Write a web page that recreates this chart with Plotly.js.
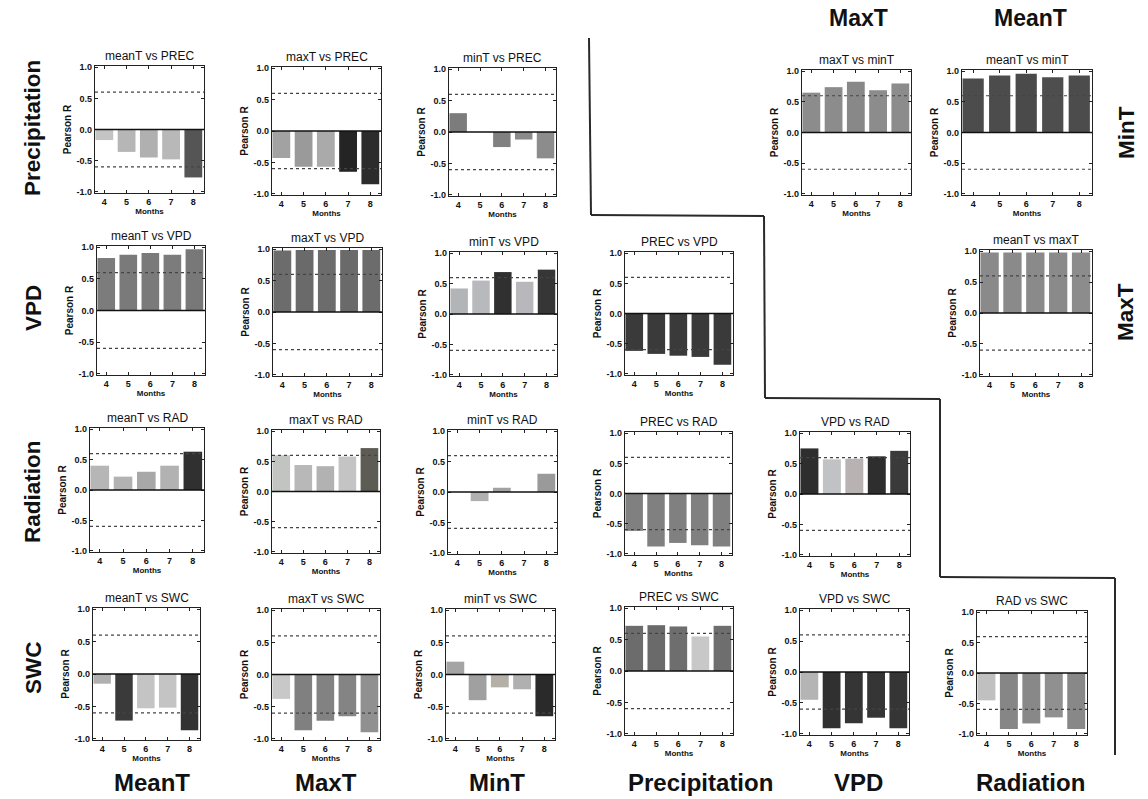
<!DOCTYPE html>
<html>
<head>
<meta charset="utf-8">
<script src="https://cdn.plot.ly/plotly-3.0.1.min.js"></script>
<style>html,body{margin:0;padding:0;background:#fff;}#chart{width:1148px;height:799px;}</style>
</head>
<body>
<div id="chart"></div>
<script>
// ---- data ----
const months = [4, 5, 6, 7, 8];
const monthLabels = ['4', '5', '6', '7', '8'];
const yTickVals = [-1, -0.5, 0, 0.5, 1];
const yTickText = ['-1.0', '-0.5', '0.0', '0.5', '1.0'];
const significance = [0.6, -0.6];

const r_meanT_PREC = [-0.17, -0.36, -0.45, -0.48, -0.77];
const r_maxT_PREC  = [-0.43, -0.57, -0.57, -0.65, -0.85];
const r_minT_PREC  = [0.30, 0.00, -0.24, -0.12, -0.42];
const r_maxT_minT  = [0.65, 0.74, 0.83, 0.69, 0.80];
const r_meanT_minT = [0.88, 0.93, 0.96, 0.90, 0.93];
const r_meanT_VPD  = [0.83, 0.88, 0.91, 0.88, 0.97];
const r_maxT_VPD   = [0.98, 0.99, 0.99, 0.99, 0.99];
const r_minT_VPD   = [0.42, 0.55, 0.69, 0.53, 0.73];
const r_PREC_VPD   = [-0.62, -0.67, -0.70, -0.72, -0.85];
const r_meanT_maxT = [0.98, 0.98, 0.98, 0.98, 0.98];
const r_meanT_RAD  = [0.40, 0.22, 0.30, 0.40, 0.63];
const r_maxT_RAD   = [0.60, 0.44, 0.42, 0.58, 0.72];
const r_minT_RAD   = [0.00, -0.15, 0.07, 0.00, 0.30];
const r_PREC_RAD   = [-0.62, -0.88, -0.82, -0.86, -0.88];
const r_VPD_RAD    = [0.75, 0.57, 0.58, 0.62, 0.71];
const r_meanT_SWC  = [-0.15, -0.72, -0.53, -0.52, -0.87];
const r_maxT_SWC   = [-0.38, -0.87, -0.72, -0.65, -0.90];
const r_minT_SWC   = [0.20, -0.40, -0.20, -0.23, -0.65];
const r_PREC_SWC   = [0.72, 0.73, 0.71, 0.55, 0.72];
const r_VPD_SWC    = [-0.45, -0.91, -0.83, -0.74, -0.91];
const r_RAD_SWC    = [-0.45, -0.92, -0.83, -0.73, -0.92];

const rowLabels = ['Precipitation', 'VPD', 'Radiation', 'SWC'];
const colLabels = ['MeanT', 'MaxT', 'MinT', 'Precipitation', 'VPD', 'Radiation'];
const topLabels = ['MaxT', 'MeanT'];
const rightLabels = ['MinT', 'MaxT'];

// ---- styles (bar shades) ----
const shades = {
  meanT_PREC: ['#c4c4c4', '#b6b6b6', '#b0b0b0', '#b8b8b8', '#555555'],
  maxT_PREC:  ['#a2a2a2', '#9a9a9a', '#aaaaaa', '#242424', '#2c2c2c'],
  minT_PREC:  ['#7c7c7c', '#888888', '#808080', '#8a8a8a', '#8c8c8c'],
  maxT_minT:  ['#8c8c8c', '#8c8c8c', '#888888', '#8c8c8c', '#8c8c8c'],
  meanT_minT: ['#4c4c4c', '#4c4c4c', '#4a4a4a', '#4e4e4e', '#4c4c4c'],
  meanT_VPD:  ['#7c7c7c', '#7a7a7a', '#7a7a7a', '#7c7c7c', '#787878'],
  maxT_VPD:   ['#6c6c6c', '#6a6a6a', '#6c6c6c', '#6a6a6a', '#6c6c6c'],
  minT_VPD:   ['#b2b5b8', '#b8b9bd', '#303030', '#b8b8bc', '#363636'],
  PREC_VPD:   ['#3a3a3a', '#3a3a3a', '#3a3a3a', '#3a3a3a', '#3a3a3a'],
  meanT_maxT: ['#8a8a8a', '#8a8a8a', '#8a8a8a', '#8a8a8a', '#8c8c8c'],
  meanT_RAD:  ['#b6b6b6', '#b2b2b2', '#a8a8a8', '#b2b2b2', '#303030'],
  maxT_RAD:   ['#c2c4c2', '#b8b8b8', '#b2b2b2', '#c4c4c4', '#5c5c54'],
  minT_RAD:   ['#b0b0b0', '#b0b0b0', '#a2a2a2', '#a0a0a0', '#9a9a9a'],
  PREC_RAD:   ['#808080', '#808080', '#808080', '#808080', '#808080'],
  VPD_RAD:    ['#2e2e2e', '#c0c2c4', '#b8b2b2', '#2e2e2e', '#3a3a3a'],
  meanT_SWC:  ['#b0b0b0', '#3a3a3a', '#c4c4c4', '#c4c4c4', '#333333'],
  maxT_SWC:   ['#c8c8c8', '#808080', '#828282', '#848484', '#909090'],
  minT_SWC:   ['#a4a4a4', '#a0a0a0', '#b4b0a8', '#b0b0b0', '#2a2a2a'],
  PREC_SWC:   ['#6c6c6c', '#6a6a6a', '#6e6e6e', '#c8c8c8', '#6e6e6e'],
  VPD_SWC:    ['#b4b4b4', '#303030', '#353535', '#353535', '#353535'],
  RAD_SWC:    ['#c0c0c0', '#868686', '#888888', '#909090', '#888888']
};

// ---- panel table: title, values, shades, pixel box [left, right, top, bottom] ----
const panels = [
  ['meanT vs PREC', r_meanT_PREC, shades.meanT_PREC, [95, 204, 66, 193]],
  ['maxT vs PREC',  r_maxT_PREC,  shades.maxT_PREC,  [272, 381, 67, 195]],
  ['minT vs PREC',  r_minT_PREC,  shades.minT_PREC,  [449, 556, 68, 196]],
  ['maxT vs minT',  r_maxT_minT,  shades.maxT_minT,  [802, 911, 70, 195]],
  ['meanT vs minT', r_meanT_minT, shades.meanT_minT, [962, 1092, 70, 195]],
  ['meanT vs VPD',  r_meanT_VPD,  shades.meanT_VPD,  [97, 205, 246, 375]],
  ['maxT vs VPD',   r_maxT_VPD,   shades.maxT_VPD,   [273, 382, 248, 376]],
  ['minT vs VPD',   r_minT_VPD,   shades.minT_VPD,   [450, 557, 252, 376]],
  ['PREC vs VPD',   r_PREC_VPD,   shades.PREC_VPD,   [625, 733, 252, 375]],
  ['meanT vs maxT', r_meanT_maxT, shades.meanT_maxT, [980, 1092, 250, 376]],
  ['meanT vs RAD',  r_meanT_RAD,  shades.meanT_RAD,  [90, 204, 428, 552]],
  ['maxT vs RAD',   r_maxT_RAD,   shades.maxT_RAD,   [272, 380, 430, 553]],
  ['minT vs RAD',   r_minT_RAD,   shades.minT_RAD,   [448, 557, 430, 554]],
  ['PREC vs RAD',   r_PREC_RAD,   shades.PREC_RAD,   [625, 732, 432, 555]],
  ['VPD vs RAD',    r_VPD_RAD,    shades.VPD_RAD,    [800, 910, 432, 556]],
  ['meanT vs SWC',  r_meanT_SWC,  shades.meanT_SWC,  [93, 200, 608, 740]],
  ['maxT vs SWC',   r_maxT_SWC,   shades.maxT_SWC,   [272, 380, 609, 740]],
  ['minT vs SWC',   r_minT_SWC,   shades.minT_SWC,   [446, 555, 609, 740]],
  ['PREC vs SWC',   r_PREC_SWC,   shades.PREC_SWC,   [625, 733, 607, 735]],
  ['VPD vs SWC',    r_VPD_SWC,    shades.VPD_SWC,    [800, 909, 609, 735]],
  ['RAD vs SWC',    r_RAD_SWC,    shades.RAD_SWC,    [977, 1087, 611, 735]]
];

const W = 1148, H = 799;
const FONT = 'Liberation Sans, Arial, Helvetica, sans-serif';
const px = x => x / W;
const py = y => 1 - y / H;

const traces = [];
const layout = {
  width: W, height: H,
  margin: {l: 0, r: 0, t: 0, b: 0},
  paper_bgcolor: '#ffffff', plot_bgcolor: '#ffffff',
  showlegend: false, bargap: 0.2,
  font: {family: FONT, color: '#111'},
  annotations: [], shapes: []
};

panels.forEach((p, i) => {
  const n = i + 1;
  const sx = n === 1 ? '' : String(n);
  const [title, vals, cols, box] = p;
  traces.push({
    type: 'bar', x: months, y: vals,
    xaxis: 'x' + sx, yaxis: 'y' + sx,
    marker: {color: cols, line: {width: 0}},
    hoverinfo: 'skip'
  });
  layout['xaxis' + sx] = {
    domain: [px(box[0]), px(box[1])], anchor: 'y' + sx,
    range: [3.58, 8.48], tickvals: months, ticktext: monthLabels,
    ticks: 'inside', ticklen: 3, tickcolor: '#222', mirror: 'ticks',
    showline: true, linecolor: '#222', linewidth: 1.2, showgrid: false, zeroline: false,
    tickfont: {size: 9, weight: 'bold', family: FONT},
    title: {text: 'Months', font: {size: 8, weight: 'bold', family: FONT}, standoff: 1},
    fixedrange: true
  };
  layout['yaxis' + sx] = {
    domain: [py(box[3]), py(box[2])], anchor: 'x' + sx,
    range: [-1.02, 1.02], tickvals: yTickVals, ticktext: yTickText,
    ticks: 'inside', ticklen: 3, tickcolor: '#222', mirror: 'ticks',
    showline: true, linecolor: '#222', linewidth: 1.2, showgrid: false, zeroline: false,
    tickfont: {size: 9, weight: 'bold', family: FONT},
    title: {text: 'Pearson R', font: {size: 10, weight: 'bold', family: FONT}, standoff: 3},
    fixedrange: true
  };
  layout.annotations.push({
    text: title, xref: 'x' + sx + ' domain', yref: 'y' + sx + ' domain',
    x: 0.5, y: 1, yanchor: 'bottom', xanchor: 'center', yshift: 1,
    showarrow: false, font: {size: 12, family: FONT, color: '#111'}
  });
  significance.forEach(s => {
    layout.shapes.push({
      type: 'line', xref: 'x' + sx + ' domain', yref: 'y' + sx,
      x0: 0, x1: 1, y0: s, y1: s, layer: 'above',
      line: {color: '#444', width: 1.2, dash: 'dot'}
    });
  });
  layout.shapes.push({
    type: 'line', xref: 'x' + sx + ' domain', yref: 'y' + sx,
    x0: 0, x1: 1, y0: 0, y1: 0, layer: 'above',
    line: {color: '#111', width: 1.6}
  });
});

// big labels
const sideFont = {family: FONT, size: 22.5, weight: 'bold', color: '#111'};
const topFont = {family: FONT, size: 23, weight: 'bold', color: '#111'};
const bottomFont = {family: FONT, size: 24, weight: 'bold', color: '#111'};
const rowCenters = [128, 308, 492, 668];
rowLabels.forEach((t, k) => layout.annotations.push({
  text: t, xref: 'paper', yref: 'paper', x: px(33), y: py(rowCenters[k]),
  xanchor: 'center', yanchor: 'middle', textangle: -90, showarrow: false, font: sideFont
}));
const colCenters = [152, 326, 497, 700, 858, 1030];
colLabels.forEach((t, k) => layout.annotations.push({
  text: t, xref: 'paper', yref: 'paper', x: px(colCenters[k]), y: py(782),
  xanchor: 'center', yanchor: 'middle', showarrow: false, font: bottomFont
}));
const topCenters = [858, 1030];
topLabels.forEach((t, k) => layout.annotations.push({
  text: t, xref: 'paper', yref: 'paper', x: px(topCenters[k]), y: py(18),
  xanchor: 'center', yanchor: 'middle', showarrow: false, font: topFont
}));
const rightCenters = [133, 312];
rightLabels.forEach((t, k) => layout.annotations.push({
  text: t, xref: 'paper', yref: 'paper', x: px(1126), y: py(rightCenters[k]),
  xanchor: 'center', yanchor: 'middle', textangle: -90, showarrow: false, font: sideFont
}));

// staircase separator line
const stair = [[589, 38], [591, 215], [764, 216], [765, 398], [940, 399], [940, 577], [1115, 578], [1115, 755]];
for (let k = 0; k < stair.length - 1; k++) {
  layout.shapes.push({
    type: 'line', xref: 'paper', yref: 'paper',
    x0: px(stair[k][0]), y0: py(stair[k][1]), x1: px(stair[k + 1][0]), y1: py(stair[k + 1][1]),
    line: {color: '#2a2a2a', width: 2}
  });
}

Plotly.newPlot('chart', traces, layout, {displayModeBar: false, staticPlot: true});
</script>
</body>
</html>
